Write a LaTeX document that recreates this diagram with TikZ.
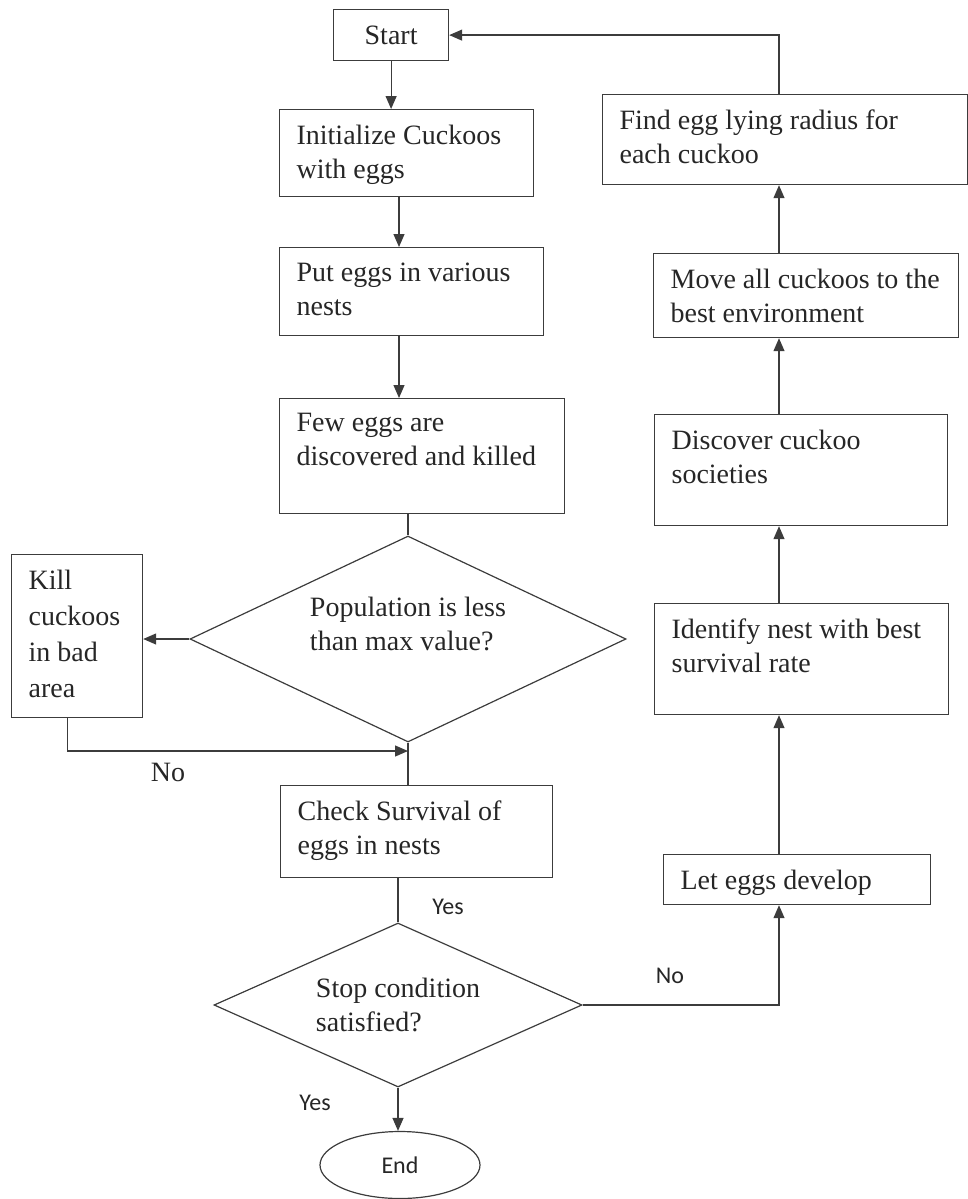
\documentclass[tikz,border=0pt]{standalone}
\usepackage{fontspec}
\setmainfont{Liberation Serif}
\newfontfamily\labelfont{Carlito}
\usetikzlibrary{shapes.geometric,arrows.meta}
\definecolor{linegray}{HTML}{3C3C3C}
\newcommand{\boxtext}[3]{\parbox[c][\dimexpr#2pt-30pt\relax][t]{#1pt}{\leftskip=17pt\relax #3}}
\newcommand{\lifttext}[2]{\raisebox{0pt}[\height][\dimexpr\depth+#1pt\relax]{\begin{tabular}{@{}l@{}}#2\end{tabular}}}
\tikzset{
	box/.style={draw=linegray, line width=1.2pt, rectangle, anchor=north west, inner xsep=0pt, inner ysep=15pt},
	decision/.style={draw=linegray, line width=1.2pt, diamond, inner sep=0pt, align=left},
	arr/.style={draw=linegray, line width=1.2pt, -{Triangle[length=13pt,width=11pt]}},
	line/.style={draw=linegray, line width=1.2pt},
	tag/.style={font=\labelfont\fontsize{24}{28}\selectfont, anchor=base}
}
\begin{document}
\begin{tikzpicture}[x=1pt, y=-1pt, font=\fontsize{28}{34}\selectfont, text=black!85]
	\useasboundingbox (0,0) rectangle (968,1199);
	\coordinate (lx) at (399,0);
	\coordinate (rx) at (779,0);
	\coordinate (merge) at (408,751);
	\node[box, inner sep=0pt, minimum width=115pt, minimum height=51pt] (start) at (333,9) {Start};
	\node[box] (init) at (279,109) {\boxtext{254}{87}{Initialize Cuckoos\\with eggs}};
	\node[box] (put) at (279,247) {\boxtext{264}{88}{Put eggs in various\\nests}};
	\node[box] (few) at (279,398) {\boxtext{285}{115}{Few eggs are\\discovered and killed}};
	\node[decision, minimum width=436pt, minimum height=206pt, aspect=2.12] (pop) at (408,639) {\lifttext{24}{Population is less\\than max value?}};
	\node[box] (kill) at (11,554) {\boxtext{131}{163}{\fontsize{28}{36}\selectfont Kill\\cuckoos\\in bad\\area}};
	\node[box] (check) at (280,785) {\boxtext{272}{92}{Check Survival of\\eggs in nests}};
	\node[decision, minimum width=368pt, minimum height=164pt, aspect=2.24] (stop) at (398,1005) {Stop condition\\satisfied?};
	\node[draw=linegray, line width=1.2pt, ellipse, inner sep=0pt, minimum width=160pt, minimum height=67pt, font=\labelfont\fontsize{24}{28}\selectfont] (end) at (400,1165) {End};
	\node[box] (find) at (602,94) {\boxtext{365}{90}{Find egg lying radius for\\each cuckoo}};
	\node[box] (move) at (653,253) {\boxtext{305}{84}{Move all cuckoos to the\\best environment}};
	\node[box] (discover) at (654,414) {\boxtext{293}{111}{Discover cuckoo\\societies}};
	\node[box] (identify) at (654,603) {\boxtext{294}{111}{Identify nest with best\\survival rate}};
	\node[box] (let) at (663,854) {\boxtext{267}{50}{Let eggs develop}};
	\draw[arr] (start.south) -- (start.south |- init.north);
	\draw[arr] (init.south -| lx) -- (put.north -| lx);
	\draw[arr] (put.south -| lx) -- (few.north -| lx);
	\draw[line] (few.south -| pop.north) -- (pop.north);
	\draw[arr] (pop.west) -- (pop.west -| kill.east);
	\draw[arr] ([xshift=-9.5pt]kill.south) |- (merge);
	\draw[line] (pop.south) -- (pop.south |- check.north);
	\draw[line] (check.south -| stop.north) -- (stop.north);
	\draw[arr] (stop.east) -| (let.south -| rx);
	\draw[arr] (stop.south) -- (stop.south |- end.north);
	\draw[arr] (let.north -| rx) -- (identify.south -| rx);
	\draw[arr] (identify.north -| rx) -- (discover.south -| rx);
	\draw[arr] (discover.north -| rx) -- (move.south -| rx);
	\draw[arr] (move.north -| rx) -- (find.south -| rx);
	\draw[arr] (find.north -| rx) |- (start.east);
	\node[anchor=base] (nokill) at (168,781) {No};
	\node[tag] (yescheck) at (448,914) {Yes};
	\node[tag] (nostop) at (670,983) {No};
	\node[tag] (yesend) at (315,1110) {Yes};
\end{tikzpicture}
\end{document}
